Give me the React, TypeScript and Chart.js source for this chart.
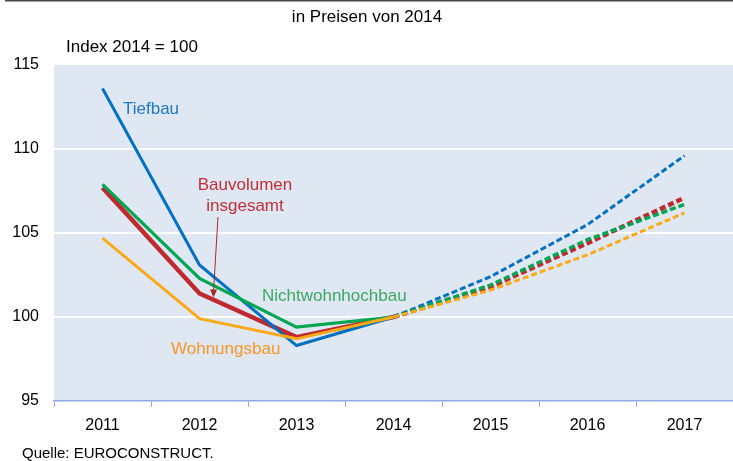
import React, { useEffect, useRef } from "react";
import { Chart, registerables } from "chart.js";

Chart.register(...registerables);

const years = ["2011", "2012", "2013", "2014", "2015", "2016", "2017"];
const tiefbau = [113.6, 103.1, 98.3, 100, 102.4, 105.5, 109.6];
const bauvolumen = [107.7, 101.4, 98.8, 100, 101.8, 104.4, 107.1];
const nichtwohnhochbau = [107.9, 102.3, 99.4, 100, 101.9, 104.6, 106.7];
const wohnungsbau = [104.7, 99.9, 98.7, 100, 101.6, 103.7, 106.2];
const yTicks = [95, 100, 105, 110, 115];

const titleText = "in Preisen von 2014";
const unitText = "Index 2014 = 100";
const sourceText = "Quelle: EUROCONSTRUCT.";

const FONT = "'Liberation Sans', Arial, sans-serif";

const decorPlugin = {
  id: "decor",
  beforeDraw(chart: any) {
    const { ctx, chartArea } = chart;
    ctx.save();
    ctx.fillStyle = "#ffffff";
    ctx.fillRect(0, 0, chart.width, chart.height);
    ctx.fillStyle = "#DFE7F3";
    ctx.fillRect(chartArea.left, chartArea.top, chartArea.right - chartArea.left, chartArea.bottom - chartArea.top);
    ctx.fillStyle = "#4a4a4a";
    ctx.fillRect(5, 0, chart.width - 5, 1.5);
    ctx.restore();
  },
  afterDraw(chart: any) {
    const { ctx } = chart;
    const x = chart.scales.x;
    const y = chart.scales.y;
    ctx.save();
    ctx.textBaseline = "middle";
    ctx.font = `17px ${FONT}`;
    ctx.fillStyle = "#000";
    ctx.textAlign = "center";
    ctx.fillText(titleText, 367, 17);
    ctx.textAlign = "left";
    ctx.fillText(unitText, 66, 47);
    ctx.font = `15px ${FONT}`;
    ctx.fillText(sourceText, 22, 454);

    // series labels
    ctx.font = `17px ${FONT}`;
    ctx.fillStyle = "#1F78C1";
    ctx.textAlign = "left";
    ctx.fillText("Tiefbau", 123, 109);
    ctx.fillStyle = "#C0303A";
    ctx.textAlign = "center";
    ctx.fillText("Bauvolumen", 245, 185);
    ctx.fillText("insgesamt", 245, 206);
    ctx.fillStyle = "#3DA863";
    ctx.textAlign = "left";
    ctx.fillText("Nichtwohnhochbau", 262, 296);
    ctx.fillStyle = "#F7962A";
    ctx.fillText("Wohnungsbau", 171, 349);

    // arrow
    const x0 = 218, y0 = 217;
    const x1 = x.getPixelForValue(1) + 14;
    const y1 = y.getPixelForValue(101.4) + 4;
    ctx.strokeStyle = "#A52A2A";
    ctx.fillStyle = "#A52A2A";
    ctx.lineWidth = 1;
    ctx.beginPath();
    ctx.moveTo(x0, y0);
    ctx.lineTo(x1, y1 - 6);
    ctx.stroke();
    ctx.beginPath();
    ctx.moveTo(x1, y1);
    ctx.lineTo(x1 - 3.5, y1 - 8);
    ctx.lineTo(x1 + 3.5, y1 - 8);
    ctx.closePath();
    ctx.fill();
    ctx.restore();
  },
};

const dashSeg = (w: number) => ({
  borderDash: (c: any) => (c.p0DataIndex >= 3 ? [6, 3] : undefined),
  borderWidth: (c: any) => (c.p0DataIndex >= 3 ? w : undefined),
});

export default function App() {
  const ref = useRef<HTMLCanvasElement>(null);
  useEffect(() => {
    if (!ref.current) return;
    const chart = new Chart(ref.current, {
      type: "line",
      data: {
        labels: years,
        datasets: [
          { label: "Wohnungsbau", data: wohnungsbau, borderColor: "#FCA91A", borderWidth: 3, pointRadius: 0, segment: dashSeg(3) },
          { label: "Nichtwohnhochbau", data: nichtwohnhochbau, borderColor: "#00A651", borderWidth: 3.2, pointRadius: 0, segment: dashSeg(3.5) },
          { label: "Tiefbau", data: tiefbau, borderColor: "#0070C0", borderWidth: 3, pointRadius: 0, segment: dashSeg(3) },
          { label: "Bauvolumen insgesamt", data: bauvolumen, borderColor: "#BE2A30", borderWidth: 4.5, pointRadius: 0, segment: dashSeg(4.5) },
        ],
      },
      options: {
        animation: false,
        responsive: false,
        devicePixelRatio: 1,
        layout: { padding: { left: 0, right: 0, top: 65, bottom: 20 } },
        plugins: { legend: { display: false }, tooltip: { enabled: false } },
        scales: {
          x: {
            offset: true,
            grid: { offset: true, drawOnChartArea: false, color: "#8FAADC", tickLength: 6, lineWidth: 1 },
            border: { color: "#8FAADC", width: 1.5 },
            ticks: { color: "#000", font: { family: FONT, size: 16 }, padding: 9, maxRotation: 0 },
            afterFit: (s: any) => { s.height = 40; },
          },
          y: {
            min: 95,
            max: 115,
            afterBuildTicks: (s: any) => { s.ticks = yTicks.map((v) => ({ value: v })); },
            grid: {
              color: (c: any) => (c.tick && (c.tick.value === 95 || c.tick.value === 115) ? "rgba(0,0,0,0)" : "#ffffff"),
              lineWidth: 2,
              drawTicks: false,
            },
            border: { display: false },
            ticks: { color: "#000", font: { family: FONT, size: 16 }, padding: 15 },
            afterFit: (s: any) => { s.width = 54; },
          },
        },
      },
      plugins: [decorPlugin],
    });
    return () => chart.destroy();
  }, []);
  return (
    <div style={{ position: "fixed", left: 0, top: 0, width: 733, height: 461, background: "#fff" }}>
      <canvas ref={ref} width={733} height={461} />
    </div>
  );
}
